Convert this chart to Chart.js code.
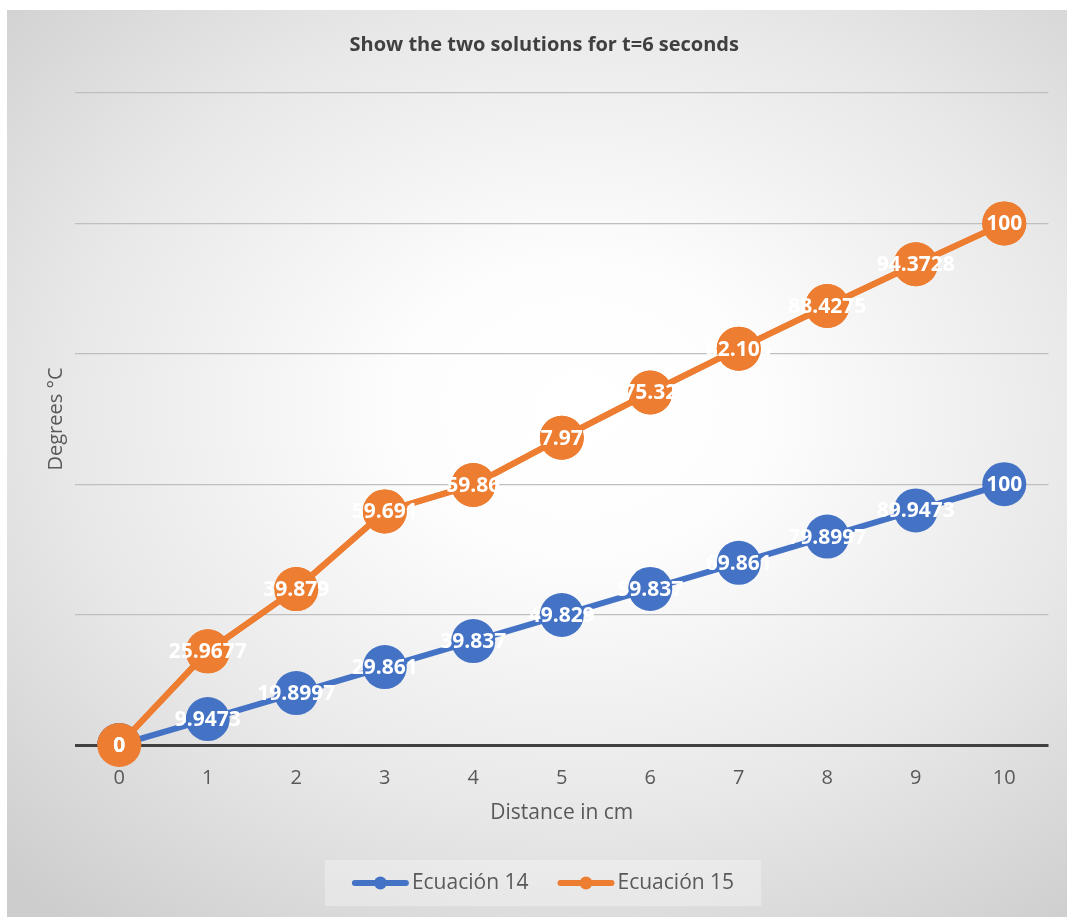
<!DOCTYPE html>
<html>
<head>
<meta charset="utf-8">
<script src="https://cdn.jsdelivr.net/npm/chart.js@4/dist/chart.umd.min.js"></script>
<style>
  html, body { margin: 0; padding: 0; background: #ffffff; }
  #wrap { position: relative; width: 1067px; height: 917px; overflow: hidden; }
  #bg {
    position: absolute; left: 7px; top: 10px; width: 1060px; height: 907px;
    background: radial-gradient(ellipse 78% 72% at 54% 44%, #ffffff 0%, #fdfdfd 22%, #e8e8e8 62%, #cdcdcd 100%);
  }
  #chart { position: absolute; left: 0; top: 0; }
</style>
</head>
<body>
<div id="wrap">
  <div id="bg"></div>
  <canvas id="chart" width="1067" height="917"></canvas>
</div>
<script>
// Distance along the bar (cm)
const categories = ['0', '1', '2', '3', '4', '5', '6', '7', '8', '9', '10'];

// Temperature for each equation (°C); the second series is stacked on the first
const ecuacion14 = [0, 9.9473, 19.8997, 29.861, 39.837, 49.829, 59.837, 69.861, 79.8997, 89.9473, 100];
const ecuacion15 = [0, 25.9677, 39.879, 59.691, 59.860, 67.971, 75.32, 82.105, 88.4275, 94.3728, 100];

const seriesNames = ['Ecuación 14', 'Ecuación 15'];
const seriesColors = ['#4472C4', '#ED7D31'];

// Value axis: 0..250 in steps of 50, no tick labels
const yMin = 0, yMax = 250, yStep = 50;

const FONT = '"Open Sans", "Noto Sans", sans-serif';
const TEXT_GREY = '#595959';

// Redraw the upper series so its markers sit above the base series,
// then write each value in white on its marker.
const valueLabels = {
  id: 'valueLabels',
  afterDatasetsDraw(chart) {
    const ctx = chart.ctx;
    chart.getDatasetMeta(1).controller.draw();
    ctx.save();
    ctx.font = 'bold 21px ' + FONT;
    ctx.fillStyle = '#ffffff';
    ctx.textAlign = 'center';
    ctx.textBaseline = 'middle';
    chart.data.datasets.forEach((ds, di) => {
      const meta = chart.getDatasetMeta(di);
      meta.data.forEach((pt, i) => {
        ctx.fillText(String(ds.data[i]), pt.x, pt.y + 1);
      });
    });
    ctx.restore();
  }
};

// Legend box with a line-and-marker swatch per series
const lineLegend = {
  id: 'lineLegend',
  afterDraw(chart) {
    const ctx = chart.ctx;
    const cx = 543;
    const cy = chart.height - 34;
    ctx.save();
    ctx.font = '21px ' + FONT;
    const swatch = 57, gapText = 3, gapItem = 29, padX = 27, boxH = 46;
    const widths = chart.data.datasets.map(ds => swatch + gapText + ctx.measureText(ds.label).width);
    const total = widths.reduce((a, b) => a + b, 0) + gapItem * (widths.length - 1);
    const boxL = cx - total / 2 - padX;
    ctx.fillStyle = 'rgba(255,255,255,0.3)';
    ctx.fillRect(boxL, cy - boxH / 2, total + padX * 2, boxH);
    let x = cx - total / 2;
    chart.data.datasets.forEach((ds, i) => {
      ctx.strokeStyle = ds.borderColor;
      ctx.lineWidth = 6;
      ctx.lineCap = 'round';
      ctx.beginPath();
      ctx.moveTo(x + 3, cy);
      ctx.lineTo(x + swatch - 3, cy);
      ctx.stroke();
      ctx.fillStyle = ds.borderColor;
      ctx.beginPath();
      ctx.arc(x + swatch / 2, cy, 6.5, 0, Math.PI * 2);
      ctx.fill();
      ctx.fillStyle = TEXT_GREY;
      ctx.textAlign = 'left';
      ctx.textBaseline = 'middle';
      ctx.fillText(ds.label, x + swatch + gapText, cy);
      x += widths[i] + gapItem;
    });
    ctx.restore();
  }
};

const makeSeries = (i, values) => ({
  label: seriesNames[i],
  data: values,
  borderColor: seriesColors[i],
  backgroundColor: seriesColors[i],
  borderWidth: 6,
  pointRadius: 22,
  pointBorderWidth: 0,
  pointBackgroundColor: seriesColors[i],
  pointHoverRadius: 22,
  tension: 0,
  fill: false
});

new Chart(document.getElementById('chart'), {
  type: 'line',
  data: {
    labels: categories,
    datasets: [makeSeries(0, ecuacion14), makeSeries(1, ecuacion15)]
  },
  options: {
    responsive: false,
    animation: false,
    events: [],
    layout: { autoPadding: false, padding: { left: 40, right: 18.5, top: 0, bottom: 77 } },
    plugins: {
      legend: { display: false },
      tooltip: { enabled: false },
      title: {
        display: true,
        text: 'Show the two solutions for t=6 seconds',
        color: '#404040',
        font: { family: FONT, size: 20, weight: 'bold' },
        padding: { top: 33, bottom: 36 }
      }
    },
    scales: {
      x: {
        offset: true,
        grid: { display: false, drawTicks: false },
        border: { display: false },
        ticks: { color: TEXT_GREY, font: { family: FONT, size: 20 }, padding: 21, maxRotation: 0 },
        title: {
          display: true,
          text: 'Distance in cm',
          color: TEXT_GREY,
          font: { family: FONT, size: 21 },
          padding: { top: 0, bottom: 14 }
        },
        afterFit(scale) { scale.height = 95; }
      },
      y: {
        stacked: true,
        min: yMin,
        max: yMax,
        ticks: { display: false, stepSize: yStep },
        border: { display: false },
        grid: {
          drawTicks: false,
          color: c => (c.tick && c.tick.value === 0 ? '#404040' : '#bfbfbf'),
          lineWidth: c => (c.tick && c.tick.value === 0 ? 3 : 1.3)
        },
        title: {
          display: true,
          text: 'Degrees °C',
          color: TEXT_GREY,
          font: { family: FONT, size: 20 },
          padding: { top: 4, bottom: 0 }
        },
        afterFit(scale) { scale.width = 35; }
      }
    }
  },
  plugins: [valueLabels, lineLegend]
});
</script>
</body>
</html>
